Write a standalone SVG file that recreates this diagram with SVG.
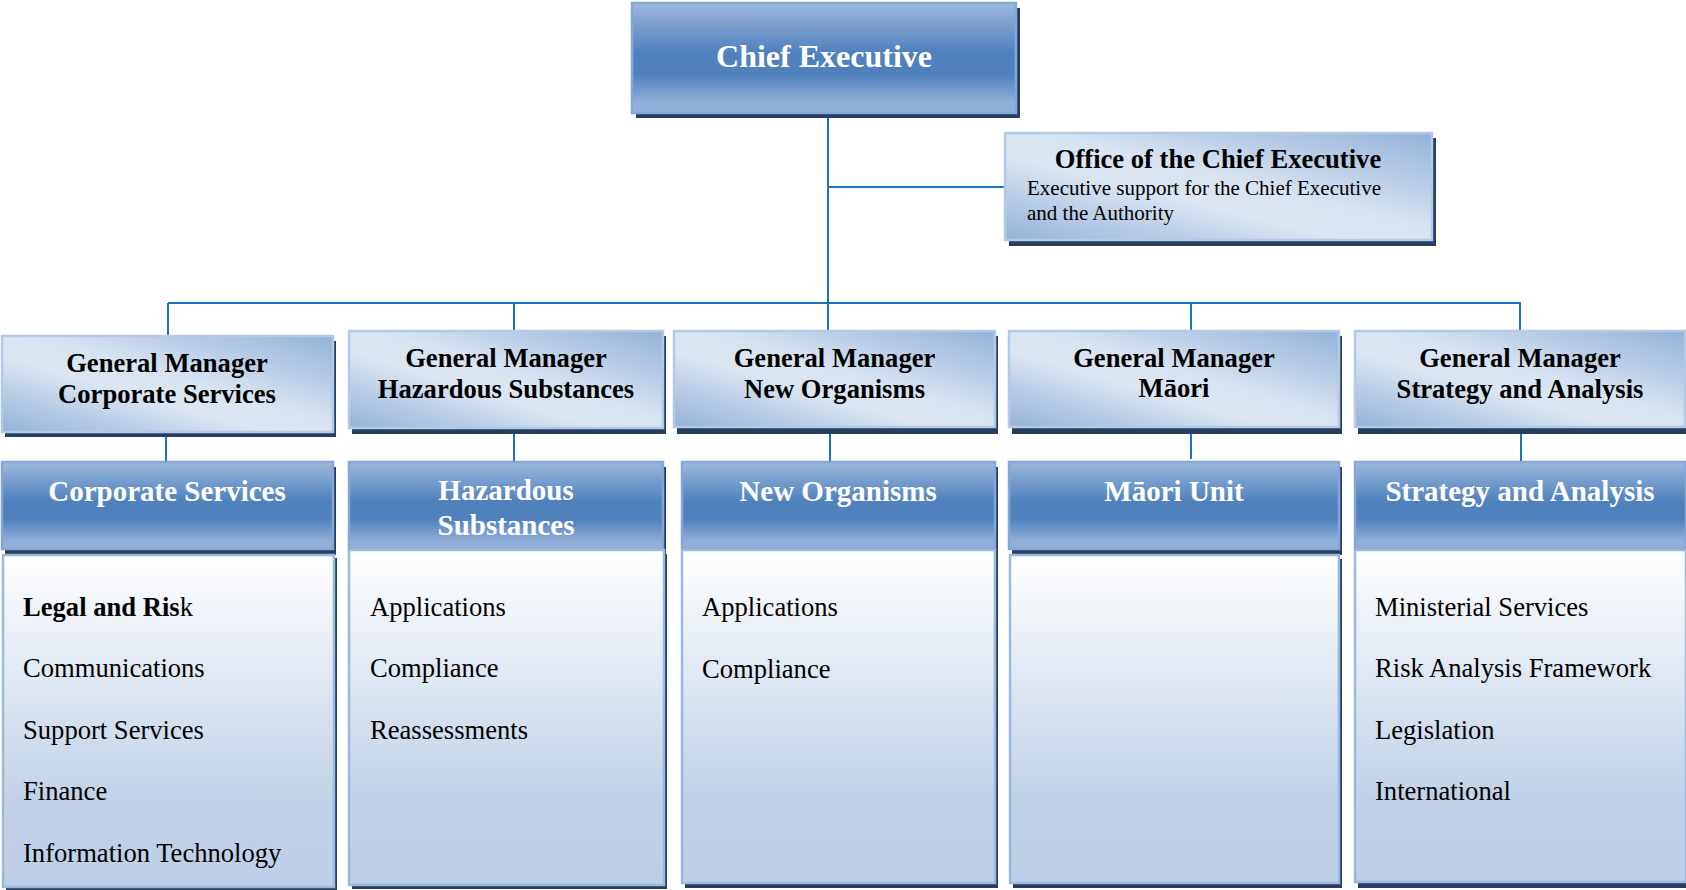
<svg xmlns="http://www.w3.org/2000/svg" width="1686" height="890" viewBox="0 0 1686 890">
<defs>
<linearGradient id="gHead" x1="0" y1="0" x2="0" y2="1">
<stop offset="0" stop-color="#9DB9DD"/>
<stop offset="0.45" stop-color="#4F81BD"/>
<stop offset="0.65" stop-color="#4F81BD"/>
<stop offset="0.9" stop-color="#8FAED8"/>
<stop offset="1" stop-color="#93B1D9"/>
</linearGradient>
<linearGradient id="gGM" x1="1" y1="0" x2="0" y2="1">
<stop offset="0" stop-color="#93B1D8"/>
<stop offset="0.45" stop-color="#D8E3F1"/>
<stop offset="0.6" stop-color="#DCE6F2"/>
<stop offset="1" stop-color="#93B1D8"/>
</linearGradient>
<linearGradient id="gBody" x1="0" y1="0" x2="0" y2="1">
<stop offset="0" stop-color="#FFFFFF"/>
<stop offset="0.4" stop-color="#DDE6F2"/>
<stop offset="0.75" stop-color="#C0D1E7"/>
<stop offset="1" stop-color="#BDCEE6"/>
</linearGradient>
</defs>
<style>
.sh{fill:#243F60}
.head{fill:url(#gHead);stroke:#86A7D5;stroke-width:2.5}
.gm{fill:url(#gGM);stroke:#B4C9E5;stroke-width:2.5}
.body{fill:url(#gBody);stroke:#9BB8DE;stroke-width:2.5}
.con{stroke:#1A74C4;stroke-width:2;fill:none}
text{font-family:"Liberation Serif","Times New Roman",serif}
.t-ce{font-size:32px;font-weight:bold;fill:#FFFFFF;text-anchor:middle}
.t-hd{font-size:29px;font-weight:bold;fill:#FFFFFF;text-anchor:middle}
.t-gm{font-size:26.6px;font-weight:bold;fill:#000000;text-anchor:middle}
.t-it{font-size:26.6px;fill:#000000}
.t-sub{font-size:21px;fill:#000000}
</style>

<g id="connectors">
<line class="con" x1="828" y1="113" x2="828" y2="331"/>
<line class="con" x1="828" y1="187" x2="1005" y2="187"/>
<line class="con" x1="168" y1="303" x2="1520" y2="303"/>
<line class="con" x1="168" y1="303" x2="168" y2="336"/>
<line class="con" x1="514" y1="303" x2="514" y2="331"/>
<line class="con" x1="1191" y1="303" x2="1191" y2="331"/>
<line class="con" x1="1520" y1="302" x2="1520" y2="331"/>
<line class="con" x1="166" y1="432" x2="166" y2="462"/>
<line class="con" x1="514" y1="428" x2="514" y2="462"/>
<line class="con" x1="830" y1="427" x2="830" y2="462"/>
<line class="con" x1="1191" y1="427" x2="1191" y2="459"/>
<line class="con" x1="1521" y1="427" x2="1521" y2="462"/>
</g>

<g id="chief-executive">
<rect class="sh" x="636" y="8" width="384" height="110"/>
<rect class="head" x="632" y="3" width="384" height="110"/>
<text class="t-ce" x="824" y="67">Chief Executive</text>
</g>

<g id="office-ce">
<rect class="sh" x="1009" y="138" width="427" height="108"/>
<rect class="gm" x="1005" y="133" width="427" height="107"/>
<text class="t-gm" x="1218" y="168">Office of the Chief Executive</text>
<text class="t-sub" x="1027" y="195">Executive support for the Chief Executive</text>
<text class="t-sub" x="1027" y="220">and the Authority</text>
</g>

<g id="gm-corporate">
<rect class="sh" x="5" y="341" width="331" height="96"/>
<rect class="gm" x="2" y="336" width="331" height="96"/>
<text class="t-gm" x="167" y="372">General Manager</text>
<text class="t-gm" x="167" y="403">Corporate Services</text>
</g>

<g id="gm-hazardous">
<rect class="sh" x="352" y="336" width="314" height="98"/>
<rect class="gm" x="349" y="331" width="314" height="97"/>
<text class="t-gm" x="506" y="367">General Manager</text>
<text class="t-gm" x="506" y="398">Hazardous Substances</text>
</g>

<g id="gm-neworg">
<rect class="sh" x="677" y="336" width="321" height="98"/>
<rect class="gm" x="674" y="331" width="321" height="96"/>
<text class="t-gm" x="834.5" y="367">General Manager</text>
<text class="t-gm" x="834.5" y="398">New Organisms</text>
</g>

<g id="gm-maori">
<rect class="sh" x="1012" y="336" width="330" height="98"/>
<rect class="gm" x="1009" y="331" width="330" height="96"/>
<text class="t-gm" x="1174" y="367">General Manager</text>
<text class="t-gm" x="1174" y="397">Māori</text>
</g>

<g id="gm-strategy">
<rect class="sh" x="1358" y="336" width="330" height="98"/>
<rect class="gm" x="1355" y="331" width="330" height="96"/>
<text class="t-gm" x="1520" y="367">General Manager</text>
<text class="t-gm" x="1520" y="398">Strategy and Analysis</text>
</g>

<g id="dept-corporate">
<rect class="sh" x="5" y="467" width="331" height="88"/>
<rect class="head" x="2" y="462" width="331" height="87"/>
<text class="t-hd" x="167" y="501">Corporate Services</text>
<rect class="sh" x="6" y="558" width="331" height="332"/>
<rect class="body" x="3" y="555" width="331" height="332"/>
<text class="t-it" x="23" y="616"><tspan font-weight="bold">Legal and Ris</tspan>k</text>
<text class="t-it" x="23" y="677">Communications</text>
<text class="t-it" x="23" y="739">Support Services</text>
<text class="t-it" x="23" y="800">Finance</text>
<text class="t-it" x="23" y="862">Information Technology</text>
</g>

<g id="dept-hazardous">
<rect class="sh" x="352" y="467" width="314" height="88"/>
<rect class="head" x="349" y="462" width="314" height="88"/>
<text class="t-hd" x="506" y="500">Hazardous</text>
<text class="t-hd" x="506" y="535">Substances</text>
<rect class="sh" x="352" y="554" width="315" height="335"/>
<rect class="body" x="349" y="550" width="315" height="335"/>
<text class="t-it" x="370" y="616">Applications</text>
<text class="t-it" x="370" y="677">Compliance</text>
<text class="t-it" x="370" y="739">Reassessments</text>
</g>

<g id="dept-neworg">
<rect class="sh" x="685" y="467" width="313" height="88"/>
<rect class="head" x="682" y="462" width="313" height="87"/>
<text class="t-hd" x="838" y="501">New Organisms</text>
<rect class="sh" x="685" y="554" width="313" height="334"/>
<rect class="body" x="682" y="550" width="313" height="333"/>
<text class="t-it" x="702" y="616">Applications</text>
<text class="t-it" x="702" y="678">Compliance</text>
</g>

<g id="dept-maori">
<rect class="sh" x="1012" y="467" width="330" height="88"/>
<rect class="head" x="1009" y="462" width="330" height="87"/>
<text class="t-hd" x="1174" y="501">Māori Unit</text>
<rect class="sh" x="1013" y="559" width="329" height="329"/>
<rect class="body" x="1010" y="555" width="329" height="328"/>
</g>

<g id="dept-strategy">
<rect class="sh" x="1358" y="467" width="331" height="88"/>
<rect class="head" x="1355" y="462" width="331" height="87"/>
<text class="t-hd" x="1520" y="501">Strategy and Analysis</text>
<rect class="sh" x="1358" y="554" width="331" height="334"/>
<rect class="body" x="1355" y="550" width="331" height="332"/>
<text class="t-it" x="1375" y="616">Ministerial Services</text>
<text class="t-it" x="1375" y="677">Risk Analysis Framework</text>
<text class="t-it" x="1375" y="739">Legislation</text>
<text class="t-it" x="1375" y="800">International</text>
</g>
</svg>
